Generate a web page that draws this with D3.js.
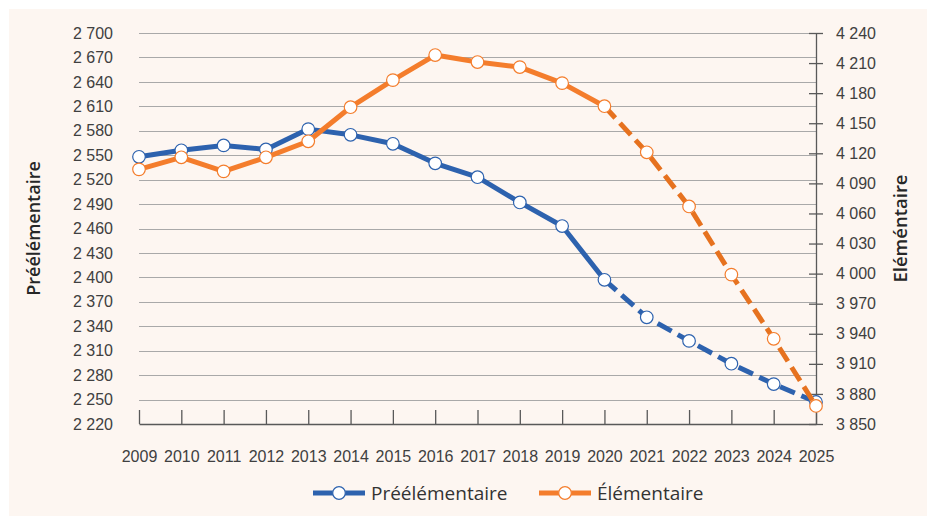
<!DOCTYPE html>
<html>
<head>
<meta charset="utf-8">
<script src="https://cdn.jsdelivr.net/npm/d3@7"></script>
<style>
  html, body { margin: 0; padding: 0; background: #ffffff; }
  svg { display: block; font-family: "Open Sans", "Noto Sans", sans-serif; }
</style>
</head>
<body>
<script>
// data
var years = [2009, 2010, 2011, 2012, 2013, 2014, 2015, 2016, 2017, 2018, 2019, 2020, 2021, 2022, 2023, 2024, 2025];
var preelementaire = [2548, 2556, 2562, 2557, 2582, 2575, 2564, 2540, 2523, 2492, 2463, 2397, 2351, 2322, 2294, 2269, 2247];
var elementaire = [4104, 4116, 4102, 4116, 4132, 4166, 4193, 4218, 4211, 4206, 4190, 4167, 4121, 4067, 3999, 3935, 3868];
var leftTicks = [2220, 2250, 2280, 2310, 2340, 2370, 2400, 2430, 2460, 2490, 2520, 2550, 2580, 2610, 2640, 2670, 2700];
var rightTicks = [3850, 3880, 3910, 3940, 3970, 4000, 4030, 4060, 4090, 4120, 4150, 4180, 4210, 4240];
var lastObserved = 2020; // dashed after this year

var width = 927, height = 517;
var margin = { top: 33, right: 111, bottom: 93, left: 139 };
var plotW = width - margin.left - margin.right;
var plotH = height - margin.top - margin.bottom;

var blue = "#2d62ae", orange = "#f47d2c", orangeDash = "#e6721f";
var textColor = "#404040", axisColor = "#595959", gridColor = "#a9a9a9";

var fr = d3.formatLocale({ decimal: ",", thousands: " ", grouping: [3], currency: ["", " €"] });
var fmt = fr.format(",d");

var svg = d3.select("body").append("svg")
    .attr("width", width)
    .attr("height", height);

// background panel
svg.append("rect")
    .attr("x", 9).attr("y", 9)
    .attr("width", width - 9).attr("height", height - 10)
    .attr("fill", "#fdf6f1");

var g = svg.append("g")
    .attr("transform", "translate(" + margin.left + "," + margin.top + ")");

var x = d3.scalePoint().domain(years).range([0, plotW]);
var yL = d3.scaleLinear().domain([leftTicks[0], leftTicks[leftTicks.length - 1]]).range([plotH, 0]);
var yR = d3.scaleLinear().domain([rightTicks[0], rightTicks[rightTicks.length - 1]]).range([plotH, 0]);

// gridlines from the left axis
g.append("g")
    .selectAll("line")
    .data(leftTicks.slice(1))
    .enter().append("line")
    .attr("x1", 0).attr("x2", plotW)
    .attr("y1", function(d) { return Math.round(yL(d)) + 0.5; })
    .attr("y2", function(d) { return Math.round(yL(d)) + 0.5; })
    .attr("stroke", gridColor)
    .attr("stroke-width", 1);

// left axis labels only
var leftAxis = g.append("g")
    .call(d3.axisLeft(yL).tickValues(leftTicks).tickFormat(fmt).tickSize(0).tickPadding(26));
leftAxis.select(".domain").remove();
leftAxis.selectAll("text").attr("font-size", 16).attr("fill", textColor).attr("font-family", null);

// right axis with crossing ticks
var rightAxis = g.append("g")
    .attr("transform", "translate(" + plotW + ",0)")
    .call(d3.axisRight(yR).tickValues(rightTicks).tickFormat(fmt).tickSize(7).tickSizeOuter(0));
rightAxis.select(".domain").attr("stroke", axisColor).attr("stroke-width", 1.3);
rightAxis.selectAll(".tick line").attr("x1", -7).attr("stroke", axisColor).attr("stroke-width", 1.3);
rightAxis.selectAll("text")
    .attr("x", 60)
    .attr("text-anchor", "end")
    .attr("font-size", 16).attr("fill", textColor).attr("font-family", null);

// bottom axis, ticks pointing inward
var bottomAxis = g.append("g")
    .attr("transform", "translate(0," + plotH + ")")
    .call(d3.axisBottom(x).tickSize(-14).tickSizeOuter(0).tickPadding(27));
bottomAxis.select(".domain").attr("stroke", axisColor).attr("stroke-width", 1.3);
bottomAxis.selectAll(".tick line").attr("stroke", axisColor).attr("stroke-width", 1.3);
bottomAxis.selectAll("text").attr("font-size", 16).attr("fill", textColor).attr("font-family", null);

// axis titles
svg.append("text")
    .attr("transform", "translate(40," + (margin.top + plotH / 2) + ") rotate(-90)")
    .attr("text-anchor", "middle")
    .attr("font-size", 18).attr("font-weight", 600).attr("fill", "#262626")
    .text("Préélémentaire");

svg.append("text")
    .attr("transform", "translate(907," + (margin.top + plotH / 2) + ") rotate(-90)")
    .attr("text-anchor", "middle")
    .attr("font-size", 18.5).attr("font-weight", 600).attr("fill", "#262626")
    .text("Eléméntaire");

// series
function drawSeries(values, yScale, color, dashColor) {
    var pts = years.map(function(yr, i) { return { year: yr, value: values[i] }; });
    var line = d3.line()
        .x(function(d) { return x(d.year); })
        .y(function(d) { return yScale(d.value); });
    var solid = pts.filter(function(d) { return d.year <= lastObserved; });
    var dashed = pts.filter(function(d) { return d.year >= lastObserved; });

    g.append("path").datum(solid)
        .attr("d", line).attr("fill", "none")
        .attr("stroke", color).attr("stroke-width", 5)
        .attr("stroke-linejoin", "round");
    g.append("path").datum(dashed)
        .attr("d", line).attr("fill", "none")
        .attr("stroke", dashColor).attr("stroke-width", 5)
        .attr("stroke-dasharray", "16,7");

    g.append("g").selectAll("circle")
        .data(pts)
        .enter().append("circle")
        .attr("cx", function(d) { return x(d.year); })
        .attr("cy", function(d) { return yScale(d.value); })
        .attr("r", 6.3)
        .attr("fill", "#ffffff")
        .attr("stroke", color)
        .attr("stroke-width", 1.2);
}

drawSeries(preelementaire, yL, blue, blue);
drawSeries(elementaire, yR, orange, orangeDash);

// legend
var legendItems = [
    { label: "Préélémentaire", color: blue, x: 313 },
    { label: "Élémentaire", color: orange, x: 539 }
];
var legend = svg.append("g").attr("transform", "translate(0,493)");
legendItems.forEach(function(item) {
    legend.append("line")
        .attr("x1", item.x).attr("x2", item.x + 52)
        .attr("stroke", item.color).attr("stroke-width", 5);
    legend.append("circle")
        .attr("cx", item.x + 26).attr("r", 6.3)
        .attr("fill", "#ffffff").attr("stroke", item.color).attr("stroke-width", 1.2);
    legend.append("text")
        .attr("x", item.x + 58).attr("dy", "0.35em")
        .attr("font-size", 19).attr("fill", "#333333")
        .text(item.label);
});
</script>
</body>
</html>
